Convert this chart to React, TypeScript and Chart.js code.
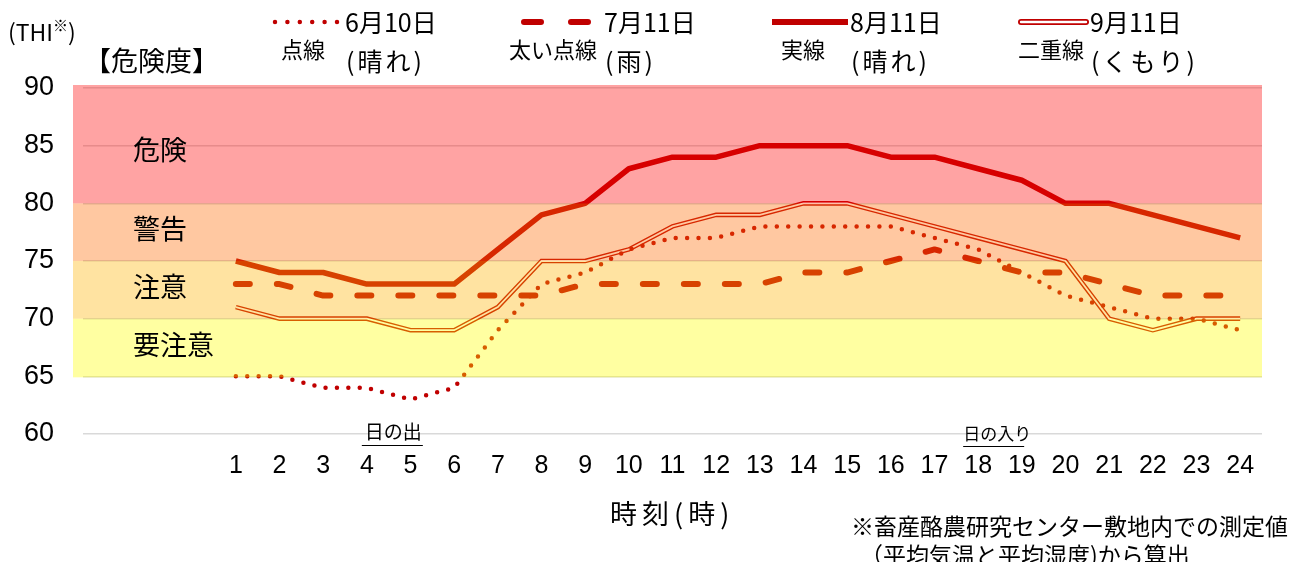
import React, { useEffect, useRef } from 'react';
import { Chart, registerables } from 'chart.js';

Chart.register(...registerables);

// ---------- data ----------
const hours = ['1','2','3','4','5','6','7','8','9','10','11','12','13','14','15','16','17','18','19','20','21','22','23','24'];
const leadingBlanks = ['', '', ''];
const june10 = [65, 65, 64, 64, 63, 64, 69, 73, 74, 76, 77, 77, 78, 78, 78, 78, 77, 76, 74, 72, 71, 70, 70, 69];
const july11 = [73, 73, 72, 72, 72, 72, 72, 72, 73, 73, 73, 73, 73, 74, 74, 75, 76, 75, 74, 74, 73, 72, 72, 72];
const aug11 = [75, 74, 74, 73, 73, 73, 76, 79, 80, 83, 84, 84, 85, 85, 85, 84, 84, 83, 82, 80, 80, 79, 78, 77];
const sep11 = [71, 70, 70, 70, 69, 69, 71, 75, 75, 76, 78, 79, 79, 80, 80, 79, 78, 77, 76, 75, 70, 69, 70, 70];
const yMin = 60;
const yMax = 90;
const yStep = 5;
const bandEdges = [65, 70, 75, 80, 90];
const bandNames = ['要注意', '注意', '警告', '危険'];
const legendDates = ['6月10日', '7月11日', '8月11日', '9月11日'];
const legendStyles = ['点線', '太い点線', '実線', '二重線'];
const legendWeather = ['(晴れ)', '(雨)', '(晴れ)', '(くもり)'];
const xTitle = '時刻(時)';
const yUnit = 'THI';
const riskTitle = '【危険度】';
const sunriseText = '日の出';
const sunriseHour = '4';
const sunsetText = '日の入り';
const sunsetHour = '18';
const footnote1 = '※畜産酪農研究センター敷地内での測定値';
const footnote2 = '（平均気温と平均湿度)から算出';

// ---------- styles ----------
const LINE = '#C00000';
const JP = '"Noto Sans CJK JP", sans-serif';
const LAT = '"Liberation Sans", Arial, sans-serif';
const bandColors = [
  'rgba(255,255,0,0.37)',
  'rgba(255,180,0,0.37)',
  'rgba(255,105,0,0.37)',
  'rgba(255,0,0,0.36)',
];

const pad = (arr: number[]) => [...leadingBlanks.map(() => null), ...arr];

function text(ctx: CanvasRenderingContext2D, s: string, x: number, y: number, size: number, align: CanvasTextAlign = 'left', spacing = 0, family = JP) {
  ctx.font = `${size}px ${family}`;
  (ctx as any).letterSpacing = `${spacing}px`;
  ctx.textAlign = align;
  ctx.textBaseline = 'middle';
  ctx.fillStyle = '#000';
  ctx.fillText(s, x, y);
  (ctx as any).letterSpacing = '0px';
}

const overlayPlugin = {
  id: 'overlayPlugin',
  afterDatasetsDraw(chart: any) {
    const { ctx, chartArea, scales } = chart;
    const y = scales.y;
    const left = chartArea.left - 10;
    const right = chartArea.right;
    ctx.save();
    for (let i = 0; i < bandEdges.length - 1; i++) {
      const isTop = i === bandEdges.length - 2;
      const top = y.getPixelForValue(bandEdges[i + 1]) - (isTop ? 3 : 0);
      const bottom = y.getPixelForValue(bandEdges[i]) + (i === 0 ? 1 : 0);
      ctx.fillStyle = bandColors[i];
      ctx.fillRect(left, top, right - left, bottom - top);
    }
    for (let i = 0; i < bandNames.length; i++) {
      const span = bandEdges[i + 1] - bandEdges[i];
      const mid = (bandEdges[i] + bandEdges[i + 1]) / 2;
      const yy = y.getPixelForValue(mid) + (span >= 10 ? 4 : -3);
      text(ctx, bandNames[i], 133, yy, 27);
    }
    ctx.restore();
  },
  afterDraw(chart: any) {
    const { ctx, chartArea, scales } = chart;
    const x = scales.x;
    ctx.save();
    // y unit & risk title
    let cx = 8;
    text(ctx, '(' + yUnit, cx, 32, 23);
    ctx.font = `23px ${JP}`;
    cx += ctx.measureText('(' + yUnit).width;
    text(ctx, '※', cx, 25, 15);
    ctx.font = `15px ${JP}`;
    cx += ctx.measureText('※').width;
    text(ctx, ')', cx, 32, 23);
    text(ctx, riskTitle, 84, 61, 27);

    // legend
    const sampleY = 22;
    const sampleStarts = [275, 522, 772, 1021];
    const sampleEnds = [338, 596, 848, 1086];
    const dateX = [345, 604, 850, 1090];
    // dotted
    ctx.strokeStyle = LINE;
    ctx.lineCap = 'round';
    ctx.lineWidth = 4.5;
    ctx.setLineDash([0, 12.4]);
    ctx.beginPath();
    ctx.moveTo(sampleStarts[0], sampleY);
    ctx.lineTo(sampleEnds[0], sampleY);
    ctx.stroke();
    // dashed
    ctx.lineWidth = 6;
    ctx.setLineDash([17, 30]);
    ctx.beginPath();
    ctx.moveTo(sampleStarts[1] + 2, sampleY);
    ctx.lineTo(sampleEnds[1], sampleY);
    ctx.stroke();
    ctx.setLineDash([]);
    // solid
    ctx.lineCap = 'butt';
    ctx.lineWidth = 6;
    ctx.beginPath();
    ctx.moveTo(sampleStarts[2], sampleY);
    ctx.lineTo(sampleEnds[2], sampleY);
    ctx.stroke();
    // double
    ctx.lineCap = 'round';
    ctx.lineWidth = 6;
    ctx.beginPath();
    ctx.moveTo(sampleStarts[3], sampleY);
    ctx.lineTo(sampleEnds[3], sampleY);
    ctx.stroke();
    ctx.strokeStyle = '#fff';
    ctx.lineWidth = 2.4;
    ctx.beginPath();
    ctx.moveTo(sampleStarts[3], sampleY);
    ctx.lineTo(sampleEnds[3], sampleY);
    ctx.stroke();
    ctx.lineCap = 'butt';

    for (let i = 0; i < legendDates.length; i++) {
      text(ctx, legendDates[i], dateX[i], 22, 25);
      text(ctx, legendWeather[i], dateX[i] + 1, 61, 25, 'left', 3);
    }
    text(ctx, legendStyles[0], 303, 50, 22, 'center');
    text(ctx, legendStyles[1], 597, 50, 22, 'right');
    text(ctx, legendStyles[2], 803, 50, 22, 'center');
    text(ctx, legendStyles[3], 1084, 50, 22, 'right');

    // sunrise / sunset
    const idxRise = leadingBlanks.length + hours.indexOf(sunriseHour);
    const idxSet = leadingBlanks.length + hours.indexOf(sunsetHour);
    const rx = x.getPixelForValue(idxRise);
    const sx = x.getPixelForValue(idxSet);
    text(ctx, sunriseText, rx - 2, 432, 19);
    text(ctx, sunsetText, sx - 15, 434, 17);
    ctx.strokeStyle = '#000';
    ctx.lineWidth = 1.2;
    ctx.beginPath();
    ctx.moveTo(rx - 5, 445.5);
    ctx.lineTo(rx + 56, 445.5);
    ctx.moveTo(sx - 15, 446.5);
    ctx.lineTo(sx + 46, 446.5);
    ctx.stroke();

    // x title
    text(ctx, xTitle, 610, 514, 27, 'left', 5);

    // footnotes
    text(ctx, footnote1, 851, 526, 23);
    text(ctx, footnote2, 860, 555, 23);
    ctx.restore();
  },
};

export default function App() {
  const ref = useRef<HTMLCanvasElement | null>(null);

  useEffect(() => {
    if (!ref.current) return;
    const labels = [...leadingBlanks, ...hours];
    const chart = new Chart(ref.current, {
      type: 'line',
      data: {
        labels,
        datasets: [
          {
            label: legendDates[0],
            data: pad(june10),
            borderColor: LINE,
            borderWidth: 4.5,
            borderDash: [0, 11.4],
            borderCapStyle: 'round',
            borderJoinStyle: 'round',
            pointRadius: 0,
            fill: false,
            order: 0,
          },
          {
            label: legendDates[1],
            data: pad(july11),
            borderColor: LINE,
            borderWidth: 6,
            borderDash: [14, 27],
            borderCapStyle: 'round',
            borderJoinStyle: 'round',
            pointRadius: 0,
            fill: false,
            order: 1,
          },
          {
            label: legendDates[3] + '_inner',
            data: pad(sep11),
            borderColor: '#ffffff',
            borderWidth: 1.8,
            pointRadius: 0,
            fill: false,
            order: 2,
          },
          {
            label: legendDates[3],
            data: pad(sep11),
            borderColor: LINE,
            borderWidth: 4.6,
            pointRadius: 0,
            fill: false,
            order: 3,
          },
          {
            label: legendDates[2],
            data: pad(aug11),
            borderColor: LINE,
            borderWidth: 5.5,
            borderJoinStyle: 'round',
            pointRadius: 0,
            fill: false,
            order: 4,
          },
        ],
      },
      options: {
        responsive: false,
        animation: false,
        layout: { padding: { top: 88, right: 35, left: 0, bottom: 0 } },
        plugins: { legend: { display: false }, tooltip: { enabled: false } },
        scales: {
          x: {
            type: 'category',
            offset: true,
            grid: { display: false, drawTicks: false },
            border: { display: false },
            ticks: {
              font: { family: LAT, size: 25 },
              color: '#000',
              padding: 17,
              maxRotation: 0,
              autoSkip: false,
            },
            afterFit: (s: any) => { s.height = 128; },
          },
          y: {
            min: yMin,
            max: yMax,
            ticks: {
              stepSize: yStep,
              font: { family: LAT, size: 27 },
              color: '#000',
              padding: 29,
            },
            grid: { color: '#D9D9D9', drawTicks: false, lineWidth: 1.5 },
            border: { display: false },
            afterFit: (s: any) => { s.width = 83; },
          },
        },
      },
      plugins: [overlayPlugin],
    } as any);
    return () => chart.destroy();
  }, []);

  return (
    <div style={{ position: 'absolute', left: 0, top: 0, width: 1297, height: 562, background: '#fff' }}>
      <canvas ref={ref} width={1297} height={562} style={{ width: 1297, height: 562, display: 'block' }} />
    </div>
  );
}
